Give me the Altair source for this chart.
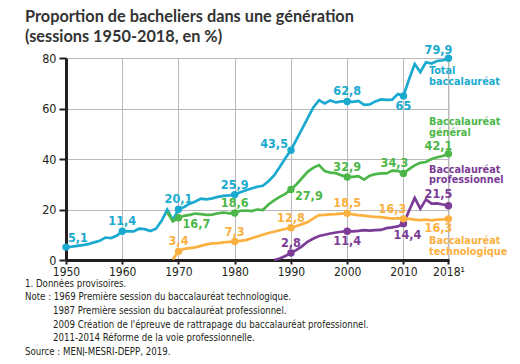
import altair as alt
import pandas as pd

# ---------------- data ----------------
series = ["Total baccalauréat", "Baccalauréat général", "Baccalauréat professionnel", "Baccalauréat technologique"]
colors = ["#1aaacf", "#4cb748", "#7b3b96", "#fbb040"]

years_total = list(range(1950, 2019))
total = [5.1, 5.3, 5.6, 5.9, 6.3, 7.0, 7.6, 8.9, 8.7, 9.6,
         11.4, 11.3, 11.3, 12.4, 12.2, 11.5, 12.4, 15.5, 19.9, 15.8,
         20.1, 21.0, 22.3, 23.2, 24.3, 24.0, 24.4, 25.0, 25.4, 25.6,
         25.9, 26.8, 27.6, 28.3, 29.0, 29.4, 31.2, 33.5, 36.8, 40.3,
         43.5, 47.8, 52.0, 56.3, 60.5, 63.3, 62.0, 63.2, 62.4, 62.8,
         62.8, 62.6, 63.0, 61.4, 61.6, 62.8, 63.6, 63.4, 63.5, 65.7,
         65.0, 71.6, 77.6, 74.4, 78.3, 77.8, 78.8, 79.1, 79.9]

years_gen = list(range(1968, 2019))
general = [19.0, 15.3,
           16.7, 17.5, 17.9, 18.4, 18.2, 17.9, 18.0, 18.5, 18.8, 18.5,
           18.6, 19.5, 19.6, 19.4, 20.0, 19.8, 22.0, 23.6, 25.0, 26.2,
           27.9, 30.0, 32.5, 35.0, 36.6, 37.6, 35.2, 34.6, 34.4, 33.5,
           32.9, 32.9, 33.2, 31.8, 33.4, 34.0, 34.3, 34.3, 35.4, 35.3,
           34.3, 36.0, 37.5, 38.5, 38.8, 40.0, 40.7, 41.2, 42.1]

years_pro = list(range(1987, 2019))
pro = [0.0, 0.6, 1.6,
       2.8, 4.0, 5.5, 7.3, 8.5, 9.5, 10.0, 10.5, 10.9, 11.2,
       11.4, 11.3, 11.5, 11.8, 11.6, 11.8, 11.9, 12.6, 12.9, 13.3,
       14.4, 19.5, 24.6, 20.3, 24.0, 22.3, 22.4, 22.0, 21.5]

years_tech = list(range(1969, 2019))
tech = [0.2,
        3.4, 4.4, 4.7, 5.0, 5.6, 6.2, 6.6, 6.7, 7.0, 7.2,
        7.3, 7.6, 7.9, 8.6, 9.3, 10.0, 10.7, 11.2, 11.8, 12.3,
        12.8, 13.5, 14.2, 15.0, 16.5, 17.8, 17.9, 18.1, 18.2, 18.4,
        18.5, 18.1, 17.8, 17.6, 17.3, 17.1, 17.0, 16.7, 16.4, 16.6,
        16.3, 16.3, 16.0, 15.8, 16.0, 15.7, 16.0, 16.1, 16.3]

x_ticks = [1950, 1960, 1970, 1980, 1990, 2000, 2010, 2018]
y_ticks = [0, 10, 20, 30, 40, 50, 60, 70, 80]

title_lines = ["Proportion de bacheliers dans une génération", "(sessions 1950-2018, en %)"]
notes_left = ["1. Données provisoires.", "Note : 1969 Première session du baccalauréat technologique."]
notes_indent = ["1987 Première session du baccalauréat professionnel.",
                "2009 Création de l'épreuve de rattrapage du baccalauréat professionnel.",
                "2011-2014 Réforme de la voie professionnelle."]
note_source = "Source : MENJ-MESRI-DEPP, 2019."

# labelled points: (series index, year) -> placement style
labelled = {
    (0, 1950): "start", (0, 1960): "above", (0, 1970): "above", (0, 1980): "above",
    (0, 1990): "leftabove", (0, 2000): "above", (0, 2010): "below", (0, 2018): "endabove",
    (1, 1970): "right", (1, 1980): "above", (1, 1990): "right", (1, 2000): "above",
    (1, 2010): "aboveleft", (1, 2018): "endabove",
    (2, 1990): "above", (2, 2000): "below", (2, 2010): "belowright", (2, 2018): "endhigh",
    (3, 1970): "above", (3, 1980): "above", (3, 1990): "above", (3, 2000): "above",
    (3, 2010): "aboveleft2", (3, 2018): "endbelow",
}

# ---------------- tables ----------------
frames = []
for i, (yrs, vals) in enumerate([(years_total, total), (years_gen, general), (years_pro, pro), (years_tech, tech)]):
    frames.append(pd.DataFrame({"annee": yrs, "valeur": vals, "serie": series[i], "idx": i}))
df = pd.concat(frames, ignore_index=True)

rows = []
for (i, yr), place in labelled.items():
    v = df[(df.idx == i) & (df.annee == yr)].valeur.iloc[0]
    rows.append({"annee": yr, "valeur": v, "serie": series[i],
                 "txt": f"{v:g}".replace(".", ","), "place": place})
lab = pd.DataFrame(rows)

# ---------------- styles ----------------
NARROW = "Liberation Sans Narrow, DejaVu Sans Condensed, sans-serif"
DARK = "#231f20"

xscale = alt.Scale(domain=[1950, 2018.1], nice=False, zero=False)
yscale = alt.Scale(domain=[0, 80], nice=False)
cscale = alt.Scale(domain=series, range=colors)

xaxis = alt.Axis(values=x_ticks, format="d", title=None, grid=True, gridColor="#b9b9b9", gridWidth=1,
                 labelExpr="datum.value == 2018 ? '2018¹' : datum.label",
                 domainColor=DARK, domainWidth=3, tickColor=DARK, tickWidth=2, tickSize=4,
                 labelFont=NARROW, labelFontSize=12, labelColor=DARK, labelPadding=2,
                 labelFlush=False, labelOverlap=False)
yaxis = alt.Axis(values=y_ticks, title=None, grid=True, gridColor="#b9b9b9", gridWidth=1,
                 domainColor=DARK, domainWidth=3, tickColor=DARK, tickWidth=2, tickSize=7,
                 labelFont=NARROW, labelFontSize=12.5, labelColor=DARK, labelPadding=3)

X = alt.X("annee:Q", scale=xscale, axis=xaxis)
Y = alt.Y("valeur:Q", scale=yscale, axis=yaxis)
C = alt.Color("serie:N", scale=cscale, legend=None)

lines = alt.Chart(df).mark_line(strokeWidth=2.7).encode(x=X, y=Y, color=C, detail="serie:N")
points = alt.Chart(lab).mark_circle(size=55, opacity=1).encode(x="annee:Q", y="valeur:Q", color=C)

place_style = {
    "above": dict(align="center", dx=0, dy=-10),
    "below": dict(align="center", dx=0, dy=10),
    "start": dict(align="left", dx=2, dy=-9),
    "right": dict(align="left", dx=4, dy=6),
    "leftabove": dict(align="right", dx=-3, dy=-6),
    "aboveleft": dict(align="center", dx=-9, dy=-10),
    "aboveleft2": dict(align="center", dx=-11, dy=-10),
    "belowright": dict(align="center", dx=4, dy=11),
    "endabove": dict(align="center", dx=-10, dy=-8),
    "endhigh": dict(align="center", dx=-10, dy=-12),
    "endbelow": dict(align="center", dx=-10, dy=9),
}
label_layers = []
for p, st in place_style.items():
    label_layers.append(
        alt.Chart(lab).transform_filter(alt.datum.place == p)
        .mark_text(font=NARROW, fontSize=12.5, fontWeight="bold", baseline="middle", **st)
        .encode(x="annee:Q", y="valeur:Q", text="txt:N", color=C)
    )

one = pd.DataFrame({"k": [0]})
def note(text, x, y, color, size, weight="normal", font=NARROW, lh=13.6):
    return alt.Chart(one).mark_text(text=text, align="left", baseline="alphabetic", font=font,
                                    fontSize=size, fontWeight=weight, color=color, lineHeight=lh
                                    ).encode(x=alt.value(x), y=alt.value(y))

ann = [
    note(title_lines, -41, -36, "#333333", 16.3, "bold", "Lato, sans-serif", 20),
    note(["Total", "baccalauréat"], 363, 16, colors[0], 10.8, "bold", NARROW, 10.8),
    note(["Baccalauréat", "général"], 363, 67, colors[1], 10.8, "bold", NARROW, 10.8),
    note(["Baccalauréat", "professionnel"], 363, 114.5, colors[2], 10.8, "bold", NARROW, 10.8),
    note(["Baccalauréat", "technologique"], 363, 186, colors[3], 10.8, "bold", NARROW, 10.8),
    note(notes_left, -41, 228.8, DARK, 9.6),
    note(notes_indent, -13, 256, DARK, 9.6),
    note(note_source, -41, 296.8, DARK, 9.6),
]

chart = alt.layer(lines, points, *label_layers, *ann).properties(
    width=383, height=202,
    padding={"left": 58, "top": 50, "right": 63, "bottom": 96},
    autosize=alt.AutoSizeParams(type="none"),
).configure_view(stroke=None).configure(background="white")

chart.save("out.html", embed_options={"renderer": "svg", "actions": False})
